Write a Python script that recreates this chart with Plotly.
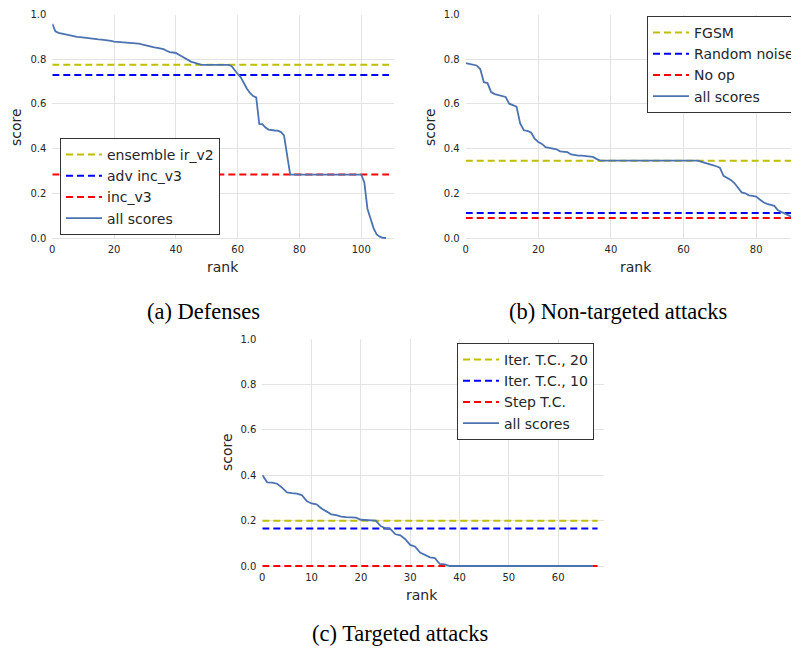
import plotly.graph_objects as go

# ---------------- data ----------------
defense_scores = (
    [0.958, 0.925, 0.918, 0.915, 0.912, 0.910, 0.905, 0.901, 0.900, 0.899,
     0.897, 0.895, 0.892, 0.891, 0.890, 0.889, 0.888, 0.887, 0.884, 0.882,
     0.879, 0.878, 0.876, 0.875, 0.874, 0.874, 0.873, 0.872, 0.870, 0.866,
     0.862, 0.859, 0.855, 0.853, 0.851, 0.849, 0.845, 0.838, 0.832, 0.830,
     0.828, 0.820, 0.812, 0.805, 0.795, 0.788, 0.785, 0.780, 0.776]
    + [0.775] * 9
    + [0.770, 0.749, 0.734, 0.719, 0.690, 0.668, 0.649, 0.635, 0.629, 0.510,
       0.509, 0.494, 0.485, 0.482, 0.481, 0.480, 0.474, 0.459, 0.374]
    + [0.284] * 24
    + [0.249, 0.131, 0.087, 0.043, 0.016, 0.006, 0.001, 0.0]
)
defense_refs = ["ensemble ir_v2", "adv inc_v3", "inc_v3"]
defense_ref_values = [0.775, 0.729, 0.284]

nontarget_scores = (
    [0.782, 0.779, 0.776, 0.772, 0.756, 0.697, 0.693, 0.653, 0.644, 0.640,
     0.638, 0.631, 0.601, 0.594, 0.588, 0.513, 0.482, 0.479, 0.472, 0.444,
     0.429, 0.421, 0.406, 0.403, 0.401, 0.397, 0.388, 0.387, 0.384, 0.374,
     0.371, 0.369, 0.369, 0.368, 0.365, 0.363, 0.354]
    + [0.346] * 28
    + [0.341, 0.335, 0.329, 0.326, 0.321, 0.315, 0.278, 0.268, 0.260, 0.246,
       0.224, 0.204, 0.200, 0.191, 0.188, 0.185, 0.172, 0.160, 0.153, 0.149,
       0.144, 0.124, 0.116, 0.109, 0.101, 0.093, 0.088]
)
nontarget_refs = ["FGSM", "Random noise", "No op"]
nontarget_ref_values = [0.346, 0.112, 0.090]

target_scores = (
    [0.401, 0.369, 0.368, 0.363, 0.346, 0.325, 0.321, 0.319, 0.313, 0.287,
     0.276, 0.272, 0.254, 0.240, 0.228, 0.224, 0.218, 0.216, 0.216, 0.213,
     0.204, 0.203, 0.203, 0.200, 0.176, 0.166, 0.163, 0.140, 0.135, 0.118,
     0.093, 0.085, 0.059, 0.047, 0.038, 0.035, 0.009, 0.007]
    + [0.0] * 30
)
target_refs = ["Iter. T.C., 20", "Iter. T.C., 10", "Step T.C."]
target_ref_values = [0.200, 0.165, 0.0]

captions = ["(a) Defenses", "(b) Non-targeted attacks", "(c) Targeted attacks"]
y_ticks = [0.0, 0.2, 0.4, 0.6, 0.8, 1.0]

# ---------------- styling ----------------
PAGE_W, PAGE_H = 799, 654
OFF = 8  # default page body margin
W, H = PAGE_W - OFF, PAGE_H - OFF
ref_colors = ["#bfbf00", "#0000ff", "#ff0000"]
curve_color = "#4c72b0"
grid_color = "#e3e3e3"
text_color = "#262626"
sans = "DejaVu Sans"
serif = "Liberation Serif"
Y_LOW = -0.006  # small pad so lines at 0 are not clipped


def px_x(p):
    return (p - OFF) / W


def px_y(p):
    return 1 - (p - OFF) / H


panels = [
    dict(scores=defense_scores, names=defense_refs, vals=defense_ref_values,
         xdom=[52.3, 394.0], ydom=[238.0, 14.5], xrange=[0, 110.6], dtick=20,
         line_end=len(defense_scores), legend="legend",
         legend_pos=(60, 138), ax="", cap=(203, 325.5),
         xt=(223, 267), yt=(16, 127)),
    dict(scores=nontarget_scores, names=nontarget_refs, vals=nontarget_ref_values,
         xdom=[465.7, 799.0], ydom=[238.0, 14.5], xrange=[0, 91.8], dtick=20,
         line_end=len(nontarget_scores) + 1, legend="legend2",
         legend_pos=(647, 16), ax="2", cap=(618, 325.5),
         xt=(636, 267), yt=(430, 127)),
    dict(scores=target_scores, names=target_refs, vals=target_ref_values,
         xdom=[262.3, 604.0], ydom=[566.0, 339.3], xrange=[0, 69.3], dtick=10,
         line_end=len(target_scores), legend="legend3",
         legend_pos=(457, 343), ax="3", cap=(400, 647.5),
         xt=(422, 595), yt=(227, 452)),
]

fig = go.Figure()
layout = dict(
    width=W, height=H,
    margin=dict(l=0, r=0, t=0, b=0, autoexpand=False),
    paper_bgcolor="white", plot_bgcolor="white",
    showlegend=True,
    annotations=[],
)

for i, p in enumerate(panels):
    xa = "x" + p["ax"]
    ya = "y" + p["ax"]
    for name, val, col in zip(p["names"], p["vals"], ref_colors):
        fig.add_trace(go.Scatter(
            x=[0, p["line_end"]], y=[val, val], mode="lines", name=name,
            line=dict(color=col, width=2, dash="7px,4px"),
            xaxis=xa, yaxis=ya, legend=p["legend"],
            hoverinfo="skip",
        ))
    fig.add_trace(go.Scatter(
        x=list(range(len(p["scores"]))), y=p["scores"], mode="lines",
        name="all scores", line=dict(color=curve_color, width=1.8),
        xaxis=xa, yaxis=ya, legend=p["legend"],
    ))

    axis_common = dict(
        showgrid=True, gridcolor=grid_color, gridwidth=1,
        zeroline=False, automargin=False,
        showline=False, ticks="", ticklabeloverflow="allow",
        tickfont=dict(family=sans, size=10, color=text_color),
    )
    y0px, y1px = p["ydom"]
    scale = (y0px - y1px) / 1.0
    ybot = y0px - Y_LOW * scale
    layout["xaxis" + p["ax"]] = dict(
        axis_common, domain=[px_x(p["xdom"][0]), min(1.0, px_x(p["xdom"][1]))],
        range=p["xrange"], dtick=p["dtick"], tick0=0,
        anchor=ya, ticklabelstandoff=3,
    )
    layout["yaxis" + p["ax"]] = dict(
        axis_common, domain=[px_y(ybot), px_y(y1px)],
        range=[Y_LOW, 1.0], tickvals=y_ticks, tickformat=".1f",
        anchor=xa, ticklabelstandoff=5,
    )
    lx, ly = p["legend_pos"]
    layout[p["legend"]] = dict(
        x=px_x(lx), y=px_y(ly), xanchor="left", yanchor="top",
        bgcolor="white", bordercolor="#333333", borderwidth=1,
        font=dict(family=sans, size=14, color=text_color),
        itemclick=False, itemwidth=36,
    )
    # captions
    cx, cy = p["cap"]
    layout["annotations"].append(dict(
        text=captions[i], x=px_x(cx), y=px_y(cy), xref="paper", yref="paper",
        xanchor="center", yanchor="bottom", showarrow=False,
        font=dict(family=serif, size=22.5, color="black"),
    ))
    # axis titles
    tx, ty = p["xt"]
    layout["annotations"].append(dict(
        text="rank", x=px_x(tx), y=px_y(ty), xref="paper", yref="paper",
        xanchor="center", yanchor="middle", showarrow=False,
        font=dict(family=sans, size=14, color=text_color),
    ))
    sx, sy = p["yt"]
    layout["annotations"].append(dict(
        text="score", x=px_x(sx), y=px_y(sy), xref="paper", yref="paper",
        xanchor="center", yanchor="middle", showarrow=False, textangle=-90,
        font=dict(family=sans, size=14, color=text_color),
    ))

fig.update_layout(**layout)
fig.write_html("out.html")
